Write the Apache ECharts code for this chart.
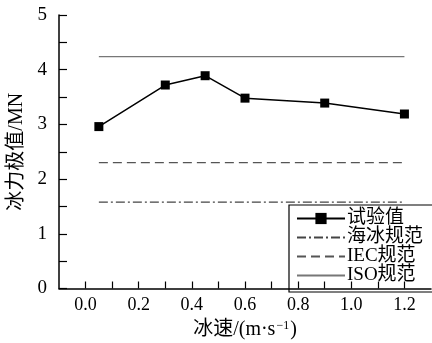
<!DOCTYPE html>
<html><head><meta charset="utf-8">
<script src="https://cdn.jsdelivr.net/npm/echarts@6/dist/echarts.min.js"></script>
<style>html,body{margin:0;padding:0;background:#fff}#c{width:432px;height:343px}</style>
</head><body><div id="c"></div>
<script>
const speeds = [0.05, 0.3, 0.45, 0.6, 0.9, 1.2];
const testValues = [2.96, 3.72, 3.89, 3.48, 3.39, 3.19];
const lineRange = [0.05, 1.2];
const seaIceValue = 1.58;
const iecValue = 2.30;
const isoValue = 4.24;
const seriesNames = ['试验值', '海冰规范', 'IEC规范', 'ISO规范'];

const FF = "'Liberation Serif', 'Noto Sans CJK SC', serif";
const chart = echarts.init(document.getElementById('c'), null, {renderer: 'canvas'});
const hline = v => lineRange.map(x => [x, v]);
chart.setOption({
  animation: false,
  backgroundColor: '#fff',
  grid: {left: 59, right: 1, top: 15, bottom: 54.5, containLabel: false, outerBoundsMode: 'none'},
  legend: {
    left: 289, top: 205, orient: 'vertical',
    data: seriesNames.map((n, i) => i === 0 ? {name: n} : {name: n, itemStyle: {opacity: 0}}),
    borderColor: '#000', borderWidth: 1.2,
    padding: [4, 12, 7, 7], itemGap: 0, itemWidth: 48, itemHeight: 14,
    textStyle: {fontFamily: FF, fontSize: 19, color: '#000', lineHeight: 17.5, padding: [0,0,0,-3]}
  },
  xAxis: {
    type: 'value', min: -0.1, max: 1.3, interval: 0.1,
    name: '{a|冰速/(m·s}{s|−1}{a|)}', nameLocation: 'middle', nameGap: 22,
    nameTextStyle: {rich: {a: {fontFamily: FF, fontSize: 20, color: '#000'}, s: {fontFamily: FF, fontSize: 12, color: '#000', verticalAlign: 'top', padding: [0,1,9,1]}}},
    axisLine: {onZero: false, lineStyle: {color: '#000', width: 1.5}},
    axisTick: {inside: true, length: 7, lineStyle: {color: '#000', width: 1.2}},
    axisLabel: {fontFamily: FF, fontSize: 18, color: '#000', margin: 8, showMinLabel: false, showMaxLabel: false,
      formatter: v => (Math.round(v * 10) % 2 === 0 ? (Math.round(v * 10) / 10).toFixed(1) : '')},
    splitLine: {show: false}
  },
  yAxis: {
    type: 'value', min: 0, max: 5, interval: 1,
    name: '冰力极值/MN', nameLocation: 'middle', nameGap: 30,
    nameTextStyle: {fontFamily: FF, fontSize: 20, color: '#000'},
    axisLine: {show: true, onZero: false, lineStyle: {color: '#000', width: 1.5}},
    axisTick: {show: true, inside: true, length: 8, lineStyle: {color: '#000', width: 1.2}},
    minorTick: {show: true, splitNumber: 2, length: 8, lineStyle: {color: '#000', width: 1.2}},
    axisLabel: {fontFamily: FF, fontSize: 19, color: '#000', margin: 12},
    splitLine: {show: false}
  },
  series: [
    {name: seriesNames[0], type: 'line', data: speeds.map((x, i) => [x, testValues[i]]),
      symbol: 'rect', symbolSize: 9, itemStyle: {color: '#000'}, lineStyle: {color: '#000', width: 1.5}, z: 5},
    {name: seriesNames[1], type: 'line', data: hline(seaIceValue), symbol: 'none',
      itemStyle: {color: '#444'}, lineStyle: {color: '#444', width: 1.2, type: [9, 3, 2, 3]}},
    {name: seriesNames[2], type: 'line', data: hline(iecValue), symbol: 'none',
      itemStyle: {color: '#555'}, lineStyle: {color: '#555', width: 1.2, type: [9, 5]}},
    {name: seriesNames[3], type: 'line', data: hline(isoValue), symbol: 'none',
      itemStyle: {color: '#777'}, lineStyle: {color: '#777', width: 1.3, type: 'solid'}}
  ]
});
</script></body></html>
